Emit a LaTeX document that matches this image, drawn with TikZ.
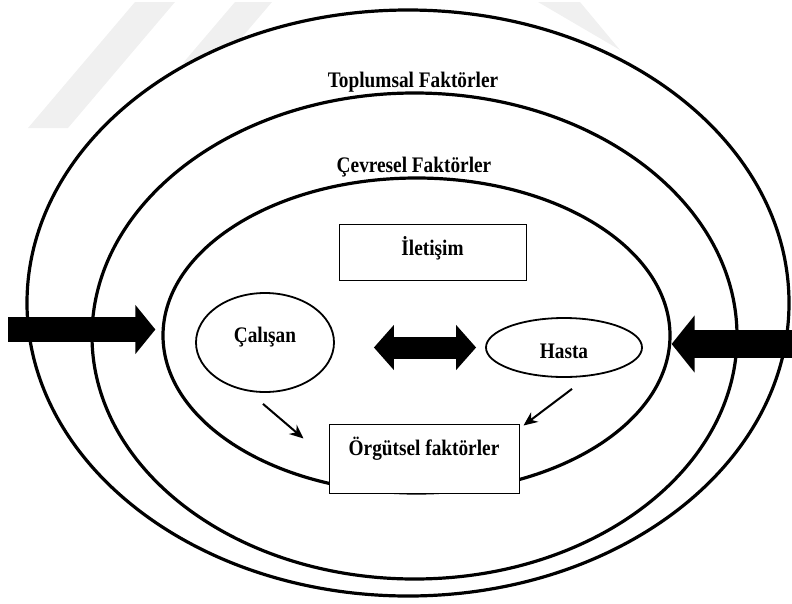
\documentclass[tikz,border=0pt]{standalone}
\usepackage{graphicx}
\usepackage{fontspec}
\setmainfont{Liberation Serif}
\usetikzlibrary{shapes.geometric, arrows.meta}
\newcommand{\yazifont}{\bfseries\fontsize{19.3}{22}\selectfont}
\newcommand{\uzun}[1]{\scalebox{1}[1.15]{#1}}

\begin{document}
\begin{tikzpicture}[x=1pt, y=-1pt, >={Stealth[length=14pt, width=12pt]},
  halka/.style={ellipse, draw, line width=3.2pt, inner sep=0pt},
  kisi/.style={ellipse, draw, line width=1.8pt, inner sep=0pt, font=\yazifont},
  kutu/.style={rectangle, draw, line width=1pt, fill=white, inner sep=0pt, font=\yazifont},
  baslik/.style={font=\yazifont, anchor=base, inner sep=0pt}]
  \useasboundingbox (0,0) rectangle (792,603);
  \fill[black!6] (135,2)--(175,2)--(68,128)--(28,128)--cycle;
  \fill[black!6] (235,2)--(272,2)--(220,63)--(183,63)--cycle;
  \fill[black!6] (538,2)--(580,2)--(620,50)--cycle;

  \node[halka, fill=white, minimum width=762, minimum height=586] (dis) at (408,303) {};
  \node[halka, minimum width=645, minimum height=486] (orta) at (414.5,336) {};
  \node[halka, minimum width=507, minimum height=315] (ic) at (416.5,335.5) {};
  \node[baslik] (toplumsalYazi) at (413,87) {\uzun{Toplumsal Faktörler}};
  \node[baslik] (cevreselYazi) at (414,172) {\uzun{Çevresel Faktörler}};

  \node[kutu, minimum width=187, minimum height=56, text height=16pt, text depth=10pt] (iletisim) at (432.5,252) {\uzun{İletişim}};
  \node[kisi, minimum width=138, minimum height=99, text height=10pt, text depth=10pt] (calisan) at (265,342.5) {\uzun{Çalışan}};
  \node[kisi, minimum width=156, minimum height=59, text height=21pt, text depth=0pt] (hasta) at (564,347.5) {\uzun{Hasta}};
  \node[kutu, minimum width=190, minimum height=69, text height=15pt, text depth=22pt] (orgutsel) at (424,458.5) {\uzun{Örgütsel faktörler}};

  \coordinate (solUc) at (8,329.5);
  \coordinate (sagUc) at (792,344);
  \draw[line width=25pt, -{Triangle[length=20pt, width=48pt]}, shorten >=6pt] (solUc) -- (solUc -| ic.west);
  \draw[line width=28pt, -{Triangle[length=23pt, width=56pt]}] (sagUc) -- (sagUc -| ic.east);
  \draw[line width=22pt, {Triangle[length=20pt, width=44pt]}-{Triangle[length=20pt, width=44pt]}, shorten <=39pt, shorten >=9pt] (calisan.east |- hasta.west) -- (hasta.west);

  \draw[->, line width=2pt] ([xshift=-2pt, yshift=-11pt]calisan.south) -- ([xshift=-25pt, yshift=-15pt]orgutsel.north west);
  \draw[->, line width=2pt] ([xshift=8pt, yshift=-11pt]hasta.south) -- ([xshift=4pt, yshift=-2pt]orgutsel.north east);
\end{tikzpicture}
\end{document}
